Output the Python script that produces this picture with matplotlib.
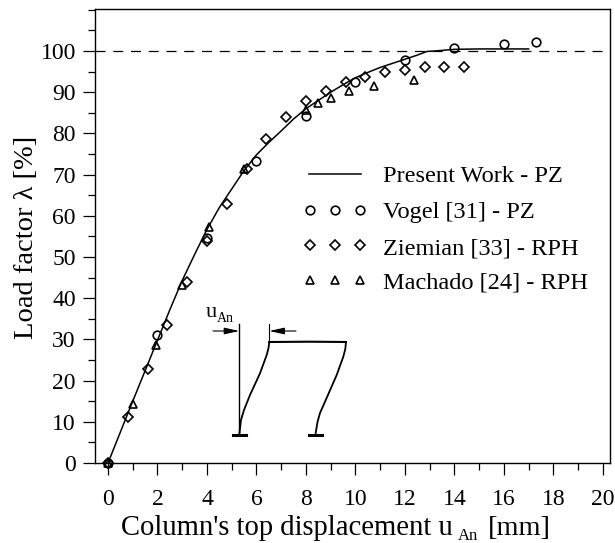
import matplotlib
matplotlib.use("Agg")
import matplotlib.pyplot as plt
from matplotlib.ticker import MultipleLocator

plt.rcParams['font.family'] = ['Liberation Serif', 'DejaVu Serif']

W, H = 615, 543
L, R, T, B = 95, 610, 9, 463

curve_x = [0, 0.5, 1, 1.5, 2, 2.5, 3, 3.5, 4, 4.5, 5, 5.5, 6, 6.5, 7, 7.5, 8, 8.5, 9, 9.5, 10, 10.5, 11, 11.5, 12, 12.5, 12.9, 13.2, 14, 15, 16, 17]
curve_y = [0, 7.5, 15, 22.4, 29.8, 37.2, 44.3, 50.6, 56.7, 62, 66.5, 71, 74.8, 77.8, 80.6, 83.5, 86, 88, 90, 91.8, 93.5, 94.8, 96, 97, 98, 99, 99.9, 100, 100.4, 100.5, 100.5, 100.5]
vogel_x = [0, 2, 4, 6, 8, 10, 12, 14, 16, 17.3]
vogel_y = [0, 31, 54.5, 73.3, 84.2, 92.4, 97.8, 100.8, 101.6, 102.1]
ziemian_x = [0, 0.8, 1.6, 2.4, 3.2, 4, 4.8, 5.6, 6.4, 7.2, 8, 8.8, 9.6, 10.4, 11.2, 12, 12.8, 13.6, 14.4]
ziemian_y = [0, 11.2, 22.7, 33.5, 44, 53.9, 62.9, 71.3, 78.6, 84, 87.9, 90.4, 92.5, 93.8, 94.9, 95.4, 96, 96, 96]
machado_x = [0, 1, 1.95, 3, 4.1, 5.5, 8, 8.47, 9.03, 9.76, 10.74, 12.36]
machado_y = [0, 14.2, 28.6, 43.2, 57.2, 71.4, 85.8, 87.3, 88.7, 90.2, 91.6, 93]
x_ticks = list(range(0, 21, 2))
y_ticks = list(range(0, 101, 10))
legend_labels = ['Present Work - PZ', 'Vogel [31] - PZ', 'Ziemian [33] - RPH', 'Machado [24] - RPH']

fig = plt.figure(figsize=(W/100, H/100), dpi=100)
ax = fig.add_axes([L/W, 1-B/H, (R-L)/W, (B-T)/H])
xs = 24.74
ys = 4.12
ax.set_xlim((L-108)/xs, (R-108)/xs)
ax.set_ylim(0, (463-T)/ys)
ax.set_xticks(x_ticks)
ax.set_yticks(y_ticks)
ax.xaxis.set_minor_locator(MultipleLocator(1))
ax.yaxis.set_minor_locator(MultipleLocator(5))
ax.tick_params(axis='x', which='major', labelsize=17, length=8.8, width=0.9, direction='out', pad=10)
ax.tick_params(axis='y', which='major', labelsize=17, length=8.8, width=0.9, direction='out', pad=5)
ax.tick_params(axis='both', which='minor', length=5.3, width=0.9, direction='out')
for s in ax.spines.values():
    s.set_linewidth(1.0)
ax.set_ylabel("Load factor λ [%]", fontsize=20.5, va='center')
ax.yaxis.set_label_coords((27-L)/(R-L), (B-237)/(B-T))

ax.axhline(100, color='k', lw=0.9, dashes=(8, 6.2))
ax.plot(curve_x, curve_y, color='k', lw=1.1)
mk = dict(ls='none', mfc='none', mec='k', mew=1.2, clip_on=False)
ax.plot(vogel_x, vogel_y, marker='o', ms=6.2, **mk)
ax.plot(ziemian_x, ziemian_y, marker='D', ms=5.3, **mk)
ax.plot(machado_x, machado_y, marker='^', ms=5.6, **mk)

def px(x, y):
    return ((x-108)/xs, (463-y)/ys)

def label(x, y, s, size):
    ax.text(*px(x, y), s, fontsize=size, va='baseline', ha='left', clip_on=False)

# x-axis title, in three pieces for the low subscript
label(121, 535, "Column's top displacement u", 20.6)
label(458, 539.5, "An", 12)
label(488, 535, "[mm]", 20.4)

# legend (hand-placed)
rows = [(174, 181.7), (210, 218), (245, 254), (280, 289)]
for i, (lab, (y, base)) in enumerate(zip(legend_labels, rows)):
    label(383, base, lab, 17.6)
    xa, ya = px(309, y)
    xb, yb = px(361, y)
    if i == 0:
        ax.plot([xa, xb], [ya, yb], color='k', lw=1.1)
    else:
        m = {1: ('o', 6.2), 2: ('D', 5.3), 3: ('^', 5.5)}[i]
        ax.plot([px(309.5, y)[0], px(335, y)[0], px(360, y)[0]], [ya]*3, marker=m[0], ms=m[1], **mk)

# inset frame sketch
def draw(pts, **k):
    ax.plot(*zip(*[px(*p) for p in pts]), color='k', **k)
draw([(239.3, 324), (239.3, 433)], lw=1)
draw([(269.3, 342), (268.5, 348), (266.7, 355), (260, 373.3), (250, 395), (244, 410), (241, 420), (239.5, 433)], lw=1.3)
draw([(269.3, 342), (310, 341.7), (346, 342)], lw=1.5)
draw([(346, 342), (345.3, 349), (343.3, 356.7), (336.7, 375), (325, 401.7), (320, 413), (317.5, 422), (315.7, 433)], lw=1.3)
draw([(233, 434.5), (246, 434.5)], lw=2.2)
draw([(309, 434.5), (322, 434.5)], lw=2.2)
draw([(269.3, 324), (269.3, 342)], lw=0.8)
style = '-|>,head_length=0.9,head_width=0.2'
ax.annotate('', xy=px(239.3, 331), xytext=px(213, 331),
            arrowprops=dict(arrowstyle=style, color='k', lw=0.8, mutation_scale=10, shrinkA=0, shrinkB=0))
ax.annotate('', xy=px(269.3, 331), xytext=px(296, 331),
            arrowprops=dict(arrowstyle=style, color='k', lw=0.8, mutation_scale=10, shrinkA=0, shrinkB=0))
label(205.5, 317, "u", 16)
label(217, 322, "An", 10)

fig.savefig('out.png', dpi=100)
